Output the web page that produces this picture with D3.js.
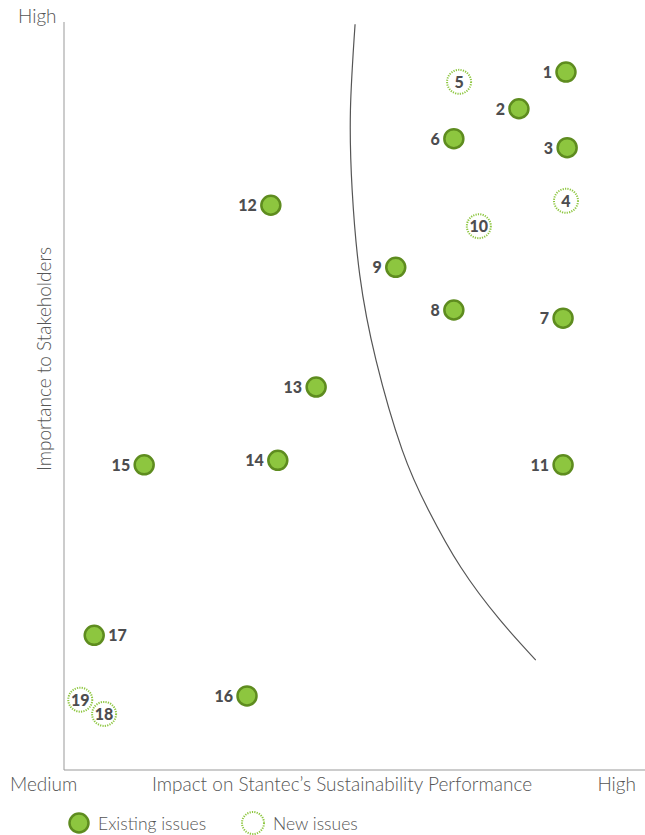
<!DOCTYPE html>
<html>
<head>
<meta charset="utf-8">
<script src="https://cdn.jsdelivr.net/npm/d3@7"></script>
<style>
body { margin: 0; background: #fff; }
text { font-family: Lato, "Noto Sans", sans-serif; }
.axisText { fill: #555; font-size: 19px; font-weight: 300; }
.legendText { fill: #555; font-size: 17.5px; font-weight: 300; }
.num { fill: #4d4d4f; font-size: 16px; font-weight: 900; }
</style>
</head>
<body>
<script>
// issue numbers, impact (x) and importance (y) on 0-100 scale, and whether new
var issues = [1,2,3,4,5,6,7,8,9,10,11,12,13,14,15,16,17,18,19];
var impact = [86.4,78.3,86.6,86.4,68.0,67.1,85.9,67.1,57.1,71.4,85.9,35.6,43.4,36.8,13.8,31.5,5.2,6.9,2.8];
var importance = [93.3,88.4,83.2,76.1,92.0,84.4,60.4,61.5,67.2,72.7,40.8,75.5,51.2,41.4,40.8,9.9,18.0,7.5,9.4];
var isNew = [false,false,false,true,true,false,false,false,false,true,false,false,false,false,false,false,false,true,true];
var labelRight = [17];

// boundary curve (same 0-100 scale)
var curveX = [50.1,49.3,49.6,50.9,53.7,58.2,62.7,68.3,75.0,81.2];
var curveY = [99.7,88.2,77.5,66.2,54.8,42.8,34.8,27.1,20.1,14.7];

var w = 645, h = 835;
var svg = d3.select("body").append("svg")
    .attr("width", w)
    .attr("height", h);

var x = d3.scaleLinear().domain([0, 100]).range([64, 645]);
var y = d3.scaleLinear().domain([0, 100]).range([770, 22]);

// axes lines
svg.append("line")
    .attr("x1", x(0)).attr("x2", x(0))
    .attr("y1", y(100)).attr("y2", y(0))
    .style("stroke", "#999").style("stroke-width", 1);
svg.append("line")
    .attr("x1", x(0)).attr("x2", x(100))
    .attr("y1", y(0)).attr("y2", y(0))
    .style("stroke", "#999").style("stroke-width", 1);

// axis texts
svg.append("text").attr("class", "axisText").attr("x", 18).attr("y", 23).text("High");
svg.append("text").attr("class", "axisText").attr("x", 10).attr("y", 791).text("Medium");
svg.append("text").attr("class", "axisText").attr("x", 636).attr("y", 791)
    .attr("text-anchor", "end").text("High");
svg.append("text").attr("class", "axisText").attr("x", 342).attr("y", 791)
    .attr("text-anchor", "middle").text("Impact on Stantec\u2019s Sustainability Performance");
svg.append("text").attr("class", "axisText")
    .attr("text-anchor", "middle")
    .attr("transform", "translate(51,359) rotate(-90)")
    .text("Importance to Stakeholders");

// boundary curve
var curvePts = curveX.map(function(d, i){ return [d, curveY[i]]; });
var line = d3.line()
    .x(function(d){ return x(d[0]); })
    .y(function(d){ return y(d[1]); })
    .curve(d3.curveNatural);
svg.append("path")
    .datum(curvePts)
    .attr("d", line)
    .style("fill", "none")
    .style("stroke", "#555")
    .style("stroke-width", 1.2);

var data = issues.map(function(d, i){
    return { id: d, x: impact[i], y: importance[i], isNew: isNew[i] };
});

var g = svg.selectAll(".issue")
    .data(data)
    .enter()
    .append("g")
    .attr("class", "issue")
    .attr("transform", function(d){ return "translate(" + x(d.x) + "," + y(d.y) + ")"; });

g.append("circle")
    .attr("r", function(d){ return d.isNew ? 12 : 9.5; })
    .style("fill", function(d){ return d.isNew ? "#fff" : "#8dc63f"; })
    .style("fill-opacity", function(d){ return d.isNew ? 0.6 : 1; })
    .style("stroke", function(d){ return d.isNew ? "#8dc63f" : "#5e8c1f"; })
    .style("stroke-width", function(d){ return d.isNew ? 2 : 2.5; })
    .style("stroke-dasharray", function(d){ return d.isNew ? "1.2,1.2" : null; });

g.append("text")
    .attr("class", "num")
    .attr("text-anchor", function(d){
        if (d.isNew) return "middle";
        return labelRight.indexOf(d.id) >= 0 ? "start" : "end";
    })
    .attr("x", function(d){
        if (d.isNew) return 0;
        return labelRight.indexOf(d.id) >= 0 ? 14 : -14;
    })
    .attr("y", 6)
    .text(function(d){ return d.id; });

// legend
var legend = svg.append("g").attr("class", "legend");
legend.append("circle")
    .attr("cx", 79).attr("cy", 823).attr("r", 9.5)
    .style("fill", "#8dc63f").style("stroke", "#5e8c1f").style("stroke-width", 2.5);
legend.append("text").attr("class", "legendText")
    .attr("x", 98).attr("y", 830).text("Existing issues");
legend.append("circle")
    .attr("cx", 253).attr("cy", 823).attr("r", 11)
    .style("fill", "none").style("stroke", "#8dc63f").style("stroke-width", 2)
    .style("stroke-dasharray", "1.2,1.2");
legend.append("text").attr("class", "legendText")
    .attr("x", 273).attr("y", 830).text("New issues");
</script>
</body>
</html>
